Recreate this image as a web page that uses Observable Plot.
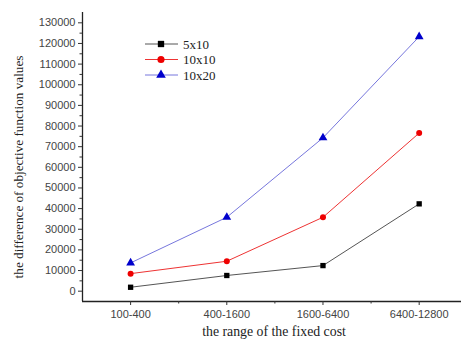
<!DOCTYPE html>
<html>
<head>
<meta charset="utf-8">
<script src="https://cdn.jsdelivr.net/npm/d3@7"></script>
<script src="https://cdn.jsdelivr.net/npm/@observablehq/plot@0.6"></script>
<style>
  html, body { margin: 0; padding: 0; background: #fff; }
  #chart svg { display: block; }
</style>
</head>
<body>
<div id="chart"></div>
<script>
const categories = ["100-400", "400-1600", "1600-6400", "6400-12800"];
const seriesNames = ["5x10", "10x10", "10x20"];
const values5x10 = [1900, 7600, 12400, 42300];
const values10x10 = [8500, 14500, 35800, 76600];
const values10x20 = [13700, 35800, 74300, 123300];
const yTicks = [0, 10000, 20000, 30000, 40000, 50000, 60000, 70000, 80000, 90000, 100000, 110000, 120000, 130000];
const yMinorTicks = [5000, 15000, 25000, 35000, 45000, 55000, 65000, 75000, 85000, 95000, 105000, 115000, 125000];
const xMinorTicks = [1.5, 2.5, 3.5];

const lineColors = {"5x10": "#555555", "10x10": "#ee3333", "10x20": "#7777dd"};
const markColors = {"5x10": "#000000", "10x10": "#ee0000", "10x20": "#0000cc"};
const symbols = {"5x10": "square", "10x10": "circle", "10x20": "triangle"};

const seriesValues = [values5x10, values10x10, values10x20];
const data = [];
seriesNames.forEach((s, i) => seriesValues[i].forEach((v, j) => data.push({series: s, x: j + 1, y: v})));

const sans = "Liberation Sans, Arial, sans-serif";
const serif = "Liberation Serif, Times New Roman, serif";

const plot = Plot.plot({
  width: 461,
  height: 342,
  marginLeft: 82,
  marginRight: 0,
  marginTop: 12,
  marginBottom: 41,
  style: {fontFamily: sans, fontSize: "11px", color: "#333"},
  x: {domain: [0.5, 4.44], label: null},
  y: {domain: [-5000, 135000], label: null},
  marks: [
    Plot.ruleX([0.5], {stroke: "#222", strokeWidth: 1.3}),
    Plot.ruleY([-5000], {stroke: "#222", strokeWidth: 1.3}),
    Plot.axisY(yTicks, {tickSize: 4, tickPadding: 3, stroke: "#333", fill: "#444", fontSize: 11, tickFormat: d => String(d)}),
    Plot.axisY(yMinorTicks, {tickSize: 2.5, text: null, stroke: "#333"}),
    Plot.axisX([1, 2, 3, 4], {tickSize: 4, tickPadding: 5, stroke: "#333", fill: "#444", fontSize: 11, tickFormat: d => categories[d - 1]}),
    Plot.axisX(xMinorTicks, {tickSize: 2.5, text: null, stroke: "#333"}),
    Plot.line(data, {x: "x", y: "y", z: "series", stroke: d => lineColors[d.series], strokeWidth: 1}),
    Plot.dot(data, {x: "x", y: "y", symbol: d => symbols[d.series], fill: d => markColors[d.series], stroke: "none", r: d => d.series === "10x20" ? 4.5 : 3.8}),
    Plot.text(["the difference of objective function values"], {frameAnchor: "left", textAnchor: "middle", dx: -64, dy: 10, rotate: -90, fontFamily: serif, fontSize: 13.2, fill: "#222"}),
    Plot.text(["the range of the fixed cost"], {frameAnchor: "bottom", dx: 2, dy: 34, fontFamily: serif, fontSize: 13.8, fill: "#222"})
  ]
});
plot.querySelectorAll("[aria-label='symbol'], [aria-label='stroke']").forEach(n => n.remove());
document.getElementById("chart").appendChild(plot);

// Legend
const svg = d3.select(plot);
const leg = svg.append("g");
seriesNames.forEach((s, i) => {
  const y = 44 + i * 15.5;
  leg.append("line").attr("x1", 145).attr("x2", 178).attr("y1", y).attr("y2", y).attr("stroke", lineColors[s]).attr("stroke-width", 1);
  const sym = d3.symbol().type(s === "5x10" ? d3.symbolSquare : s === "10x10" ? d3.symbolCircle : d3.symbolTriangle).size(40);
  leg.append("path").attr("d", sym()).attr("transform", `translate(161,${y})`).attr("fill", markColors[s]);
  leg.append("text").attr("x", 183).attr("y", y).attr("dy", "0.35em").attr("text-anchor", "start").attr("font-family", serif).attr("font-size", 13).attr("fill", "#222").text(s);
});
</script>
</body>
</html>
